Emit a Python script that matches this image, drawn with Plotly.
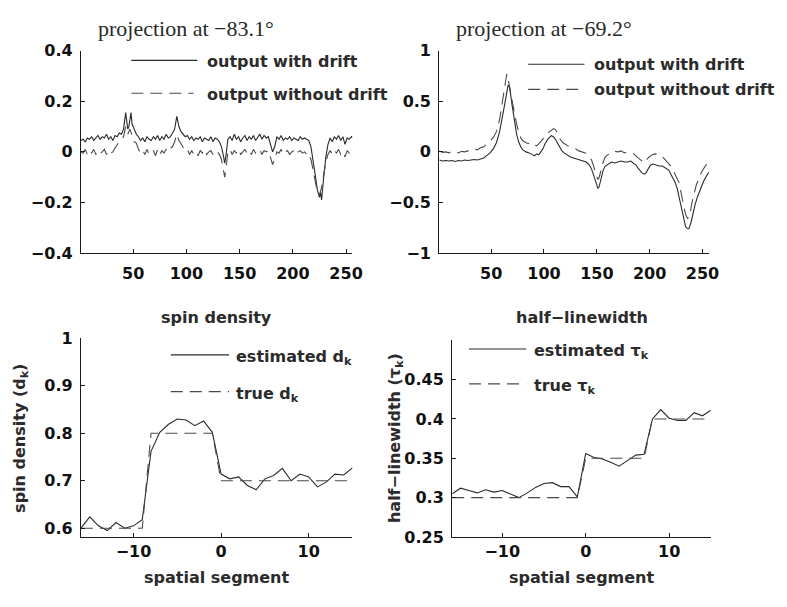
import plotly.graph_objects as go

W, H = 787, 607

# ---------------- data ----------------
# top-left: projection at -83.1 deg
tl_solid_x = [1,3,5,7,9,11,13,15,17,19,21,23,25,27,29,31,33,35,37,39,41,43,44,45,46,47,48,49,51,53,55,57,59,61,63,65,67,69,71,73,75,77,79,81,83,85,87,89,91,93,95,97,99,101,103,105,107,109,111,113,115,117,119,121,123,125,127,129,131,133,135,136,137,138,139,141,143,145,147,149,151,153,155,157,159,161,163,165,167,169,171,173,175,177,179,181,183,185,187,189,191,193,195,197,199,201,203,205,207,209,211,213,215,217,219,221,223,225,226,227,229,231,233,235,237,239,241,243,245,247,249,251,253,255,256]
tl_solid_y = [0.045,0.05,0.04,0.055,0.05,0.06,0.045,0.055,0.065,0.05,0.06,0.055,0.07,0.05,0.06,0.045,0.065,0.06,0.075,0.07,0.09,0.155,0.12,0.09,0.1,0.13,0.155,0.11,0.09,0.07,0.06,0.045,0.055,0.04,0.06,0.05,0.045,0.06,0.05,0.065,0.045,0.06,0.05,0.07,0.055,0.06,0.075,0.09,0.14,0.1,0.08,0.07,0.06,0.065,0.05,0.06,0.045,0.055,0.05,0.06,0.04,0.055,0.05,0.045,0.06,0.04,0.055,0.05,0.04,0.02,-0.02,-0.045,-0.02,0.02,0.05,0.06,0.045,0.07,0.05,0.06,0.04,0.055,0.065,0.045,0.06,0.05,0.065,0.045,0.06,0.07,0.05,0.065,0.055,0.06,0.03,0.0,0.02,0.06,0.05,0.065,0.045,0.055,0.05,0.06,0.045,0.055,0.05,0.045,0.06,0.05,0.055,0.05,0.045,0.02,-0.03,-0.09,-0.15,-0.18,-0.16,-0.19,-0.1,-0.02,0.03,0.055,0.04,0.06,0.05,0.065,0.045,0.06,0.03,0.055,0.05,0.06,0.055]
tl_dash_x = [1,3,5,7,9,11,13,15,17,19,21,23,25,27,29,31,33,35,37,39,41,43,45,47,49,51,53,55,57,59,61,63,65,67,69,71,73,75,77,79,81,83,85,87,89,91,93,95,97,99,101,103,105,107,109,111,113,115,117,119,121,123,125,127,129,131,133,135,136,137,138,139,141,143,145,147,149,151,153,155,157,159,161,163,165,167,169,171,173,175,177,179,181,183,185,187,189,191,193,195,197,199,201,203,205,207,209,211,213,215,217,219,221,223,225,227,229,231,233,235,237,239,241,243,245,247,249,251,253,255,256]
tl_dash_y = [0.0,-0.005,0.01,-0.01,0.005,-0.005,0.01,-0.01,0.005,-0.005,0.0,0.01,-0.01,0.005,-0.005,0.0,0.015,0.03,0.04,0.05,0.06,0.1,0.07,0.09,0.06,0.04,0.035,0.01,-0.005,0.005,-0.01,0.01,-0.01,0.0,0.005,-0.015,0.01,-0.01,0.005,-0.005,0.01,0.0,0.015,0.02,0.04,0.07,0.045,0.03,0.015,0.005,0.01,-0.01,0.005,-0.01,0.0,-0.015,0.005,-0.005,0.01,-0.01,0.0,0.005,-0.01,0.005,0.0,-0.01,-0.03,-0.07,-0.1,-0.07,-0.03,0.0,0.01,-0.01,0.005,-0.005,0.01,-0.01,0.0,0.01,-0.005,0.005,-0.01,0.01,-0.005,0.005,0.01,-0.01,0.005,0.0,0.005,-0.02,-0.05,-0.03,0.0,-0.005,0.01,-0.01,0.0,0.005,-0.01,0.0,0.005,-0.01,0.0,0.005,-0.005,0.0,-0.01,-0.005,-0.03,-0.07,-0.12,-0.16,-0.17,-0.14,-0.09,-0.04,-0.01,0.005,-0.01,0.005,-0.005,0.01,-0.01,0.0,-0.02,0.005,-0.005,0.01,0.005]

# top-right: projection at -69.2 deg
tr_solid_x = [1,4,7,10,13,16,19,22,25,28,31,34,37,40,43,46,49,52,55,58,61,63,65,66,67,68,70,72,74,76,78,80,83,86,89,91,93,95,97,99,101,104,107,109,111,113,115,117,119,122,125,128,131,134,137,140,143,145,147,149,151,152,154,156,158,161,164,167,170,173,176,179,182,185,187,189,191,193,195,197,199,201,203,206,209,212,215,218,221,224,226,228,230,232,234,236,237,239,241,243,245,247,249,251,253,256]
tr_solid_y = [-0.08,-0.09,-0.085,-0.09,-0.085,-0.095,-0.085,-0.09,-0.08,-0.085,-0.08,-0.075,-0.08,-0.07,-0.06,-0.035,-0.01,0.03,0.09,0.2,0.35,0.48,0.6,0.66,0.65,0.6,0.45,0.3,0.18,0.1,0.05,0.02,0.0,-0.01,-0.03,-0.04,-0.02,-0.03,0.0,0.03,0.08,0.13,0.16,0.15,0.12,0.08,0.04,0.01,-0.01,-0.03,-0.05,-0.06,-0.07,-0.08,-0.09,-0.1,-0.13,-0.17,-0.23,-0.3,-0.36,-0.35,-0.27,-0.18,-0.14,-0.12,-0.1,-0.11,-0.1,-0.09,-0.1,-0.1,-0.09,-0.11,-0.13,-0.16,-0.19,-0.21,-0.22,-0.2,-0.16,-0.13,-0.12,-0.13,-0.14,-0.14,-0.16,-0.18,-0.24,-0.3,-0.36,-0.46,-0.56,-0.67,-0.74,-0.76,-0.76,-0.7,-0.6,-0.52,-0.45,-0.39,-0.34,-0.29,-0.25,-0.2]
tr_dash_x = [1,4,7,10,13,16,19,22,25,28,31,34,37,40,43,46,49,52,55,58,60,62,64,65,66,68,70,72,74,76,78,80,83,86,89,91,93,95,97,100,103,106,109,111,113,115,118,121,124,127,130,133,136,139,142,145,147,149,151,152,154,156,158,161,164,167,170,173,176,179,182,185,188,191,193,195,197,199,202,205,208,211,214,217,220,223,226,228,230,232,234,236,238,240,242,244,246,249,252,254,256]
tr_dash_y = [0.01,-0.005,0.0,-0.01,0.005,0.0,-0.01,0.005,0.0,0.01,0.02,0.03,0.02,0.04,0.05,0.08,0.1,0.14,0.2,0.32,0.45,0.6,0.72,0.77,0.73,0.62,0.5,0.38,0.28,0.2,0.14,0.11,0.09,0.08,0.06,0.07,0.06,0.08,0.1,0.14,0.18,0.21,0.23,0.22,0.18,0.13,0.09,0.07,0.05,0.04,0.03,0.01,0.0,-0.01,-0.04,-0.08,-0.14,-0.22,-0.27,-0.26,-0.18,-0.1,-0.05,-0.02,0.0,0.005,0.0,0.01,-0.01,0.0,-0.01,-0.02,-0.05,-0.08,-0.1,-0.11,-0.08,-0.055,-0.03,-0.02,-0.025,-0.04,-0.07,-0.1,-0.14,-0.2,-0.26,-0.31,-0.42,-0.53,-0.62,-0.66,-0.62,-0.5,-0.4,-0.33,-0.28,-0.2,-0.15,-0.12,-0.09]

# bottom panels
segment = [-16,-15,-14,-13,-12,-11,-10,-9,-8,-7,-6,-5,-4,-3,-2,-1,0,1,2,3,4,5,6,7,8,9,10,11,12,13,14,15]
d_est = [0.600,0.624,0.605,0.595,0.612,0.600,0.605,0.618,0.762,0.802,0.819,0.830,0.828,0.816,0.826,0.802,
         0.714,0.704,0.708,0.690,0.681,0.704,0.711,0.726,0.700,0.714,0.708,0.687,0.697,0.714,0.712,0.727]
d_true = [0.6,0.6,0.6,0.6,0.6,0.6,0.6,0.6,0.8,0.8,0.8,0.8,0.8,0.8,0.8,0.8,
          0.7,0.7,0.7,0.7,0.7,0.7,0.7,0.7,0.7,0.7,0.7,0.7,0.7,0.7,0.7,0.7]
tau_est = [0.305,0.312,0.309,0.306,0.310,0.307,0.309,0.305,0.300,0.306,0.313,0.318,0.319,0.314,0.314,0.301,
           0.356,0.351,0.349,0.345,0.340,0.347,0.354,0.355,0.400,0.412,0.401,0.398,0.398,0.408,0.404,0.411]
tau_true = [0.3,0.3,0.3,0.3,0.3,0.3,0.3,0.3,0.3,0.3,0.3,0.3,0.3,0.3,0.3,0.3,
            0.35,0.35,0.35,0.35,0.35,0.35,0.35,0.35,0.4,0.4,0.4,0.4,0.4,0.4,0.4,0.4]

tl_yticks = [-0.4, -0.2, 0, 0.2, 0.4]
tr_yticks = [-1, -0.5, 0, 0.5, 1]
top_xticks = [50, 100, 150, 200, 250]
bl_yticks = [0.6, 0.7, 0.8, 0.9, 1]
br_yticks = [0.25, 0.3, 0.35, 0.4, 0.45]
bottom_xticks = [-10, 0, 10]

# ---------------- styling ----------------
SOLID = dict(color="#2a2a2a", width=1.1)
DASH = dict(color="#4a4a4a", width=1.1, dash="12px,7px")
TXT = "#2b2b2b"
TICKFONT = dict(family="DejaVu Sans", size=16, color="#111111", weight="bold")
LABFONT = dict(family="DejaVu Sans", size=16, color=TXT, weight="bold")


def px_x(p):
    return p / W


def px_y(p):
    return 1 - p / H


fig = go.Figure()
panels = [
    ("x", "y", tl_solid_x, tl_solid_y, tl_dash_x, tl_dash_y),
    ("x2", "y2", tr_solid_x, tr_solid_y, tr_dash_x, tr_dash_y),
    ("x3", "y3", segment, d_est, segment, d_true),
    ("x4", "y4", segment, tau_est, segment, tau_true),
]
for xa, ya, sx, sy, dx, dy in panels:
    fig.add_trace(go.Scatter(x=sx, y=sy, mode="lines", line=SOLID, xaxis=xa, yaxis=ya,
                             showlegend=False, hoverinfo="skip"))
    fig.add_trace(go.Scatter(x=dx, y=dy, mode="lines", line=DASH, xaxis=xa, yaxis=ya,
                             showlegend=False, hoverinfo="skip"))


def axis(domain, rng, tickvals, anchor, standoff):
    return dict(domain=domain, range=rng, tickvals=tickvals, anchor=anchor,
                showline=True, linecolor="#1a1a1a", linewidth=1.3, mirror=False,
                ticks="inside", ticklen=4, tickcolor="#1a1a1a", tickwidth=1,
                showgrid=False, zeroline=False, tickfont=TICKFONT,
                ticklabelstandoff=standoff)


# panel pixel boxes (left, right, top, bottom)
TLb = (82, 357, 43, 252)
TRb = (445, 718, 43, 252)
BLb = (82, 357, 340, 545)
BRb = (458, 720, 342, 545)


def xd(b):
    return [px_x(b[0]), px_x(b[1])]


def yd(b):
    return [px_y(b[3]), px_y(b[2])]


fig.update_layout(
    width=W, height=H, autosize=False,
    margin=dict(l=0, r=0, t=0, b=0),
    paper_bgcolor="white", plot_bgcolor="white",
    xaxis=axis(xd(TLb), [1, 256], top_xticks, "y", 6),
    yaxis=axis(yd(TLb), [-0.4, 0.4], tl_yticks, "x", 4),
    xaxis2=axis(xd(TRb), [1, 256], top_xticks, "y2", 6),
    yaxis2=axis(yd(TRb), [-1, 1], tr_yticks, "x2", 4),
    xaxis3=axis(xd(BLb), [-16, 15], bottom_xticks, "y3", 0),
    yaxis3=axis(yd(BLb), [0.5816, 1.0], bl_yticks, "x3", 4),
    xaxis4=axis(xd(BRb), [-16, 15], bottom_xticks, "y4", 0),
    yaxis4=axis(yd(BRb), [0.25, 0.5], br_yticks, "x4", 4),
)

ann = []
shapes = []


def text(x, y, s, font, xanchor="left", yanchor="middle", angle=0):
    ann.append(dict(x=px_x(x), y=px_y(y), xref="paper", yref="paper", text=s,
                    showarrow=False, xanchor=xanchor, yanchor=yanchor,
                    font=font, textangle=angle))


def legline(x0, x1, y, style):
    shapes.append(dict(type="line", xref="paper", yref="paper",
                       x0=px_x(x0), x1=px_x(x1), y0=px_y(y), y1=px_y(y),
                       line=style))


SERIF = dict(family="Liberation Serif", size=22, color="#2a2a2a")
text(97, 20, "projection at \u221283.1\u00b0", SERIF)
text(460, 20, "projection at \u221269.2\u00b0", SERIF)
text(219, 318, "spin density", LABFONT, xanchor="center")
text(589, 318, "half\u2212linewidth", LABFONT, xanchor="center")
text(220, 587, "spatial segment", LABFONT, xanchor="center")
text(589, 587, "spatial segment", LABFONT, xanchor="center")
text(20, 443, "spin density (d<sub>k</sub>)", LABFONT, xanchor="center", angle=-90)
text(400, 443, "half\u2212linewidth (\u03c4<sub>k</sub>)", LABFONT, xanchor="center", angle=-90)

# legends
legline(133, 200, 53, SOLID)
text(208, 54, "output with drift", LABFONT)
legline(133, 196, 87, DASH)
text(208, 88, "output without drift", LABFONT)

legline(535, 592, 57, SOLID)
text(600, 57, "output with drift", LABFONT)
legline(535, 592, 83, DASH)
text(600, 83, "output without drift", LABFONT)

legline(173, 232, 357, SOLID)
text(237, 360, "estimated d<sub>k</sub>", LABFONT)
legline(173, 232, 395, DASH)
text(237, 398, "true d<sub>k</sub>", LABFONT)

legline(475, 533, 351, SOLID)
text(539, 354, "estimated \u03c4<sub>k</sub>", LABFONT)
legline(475, 533, 387, DASH)
text(539, 390, "true \u03c4<sub>k</sub>", LABFONT)

fig.update_layout(annotations=ann, shapes=shapes)
fig.write_html("out.html", config={"displayModeBar": False},
               post_script="document.body.style.margin='0px';")
